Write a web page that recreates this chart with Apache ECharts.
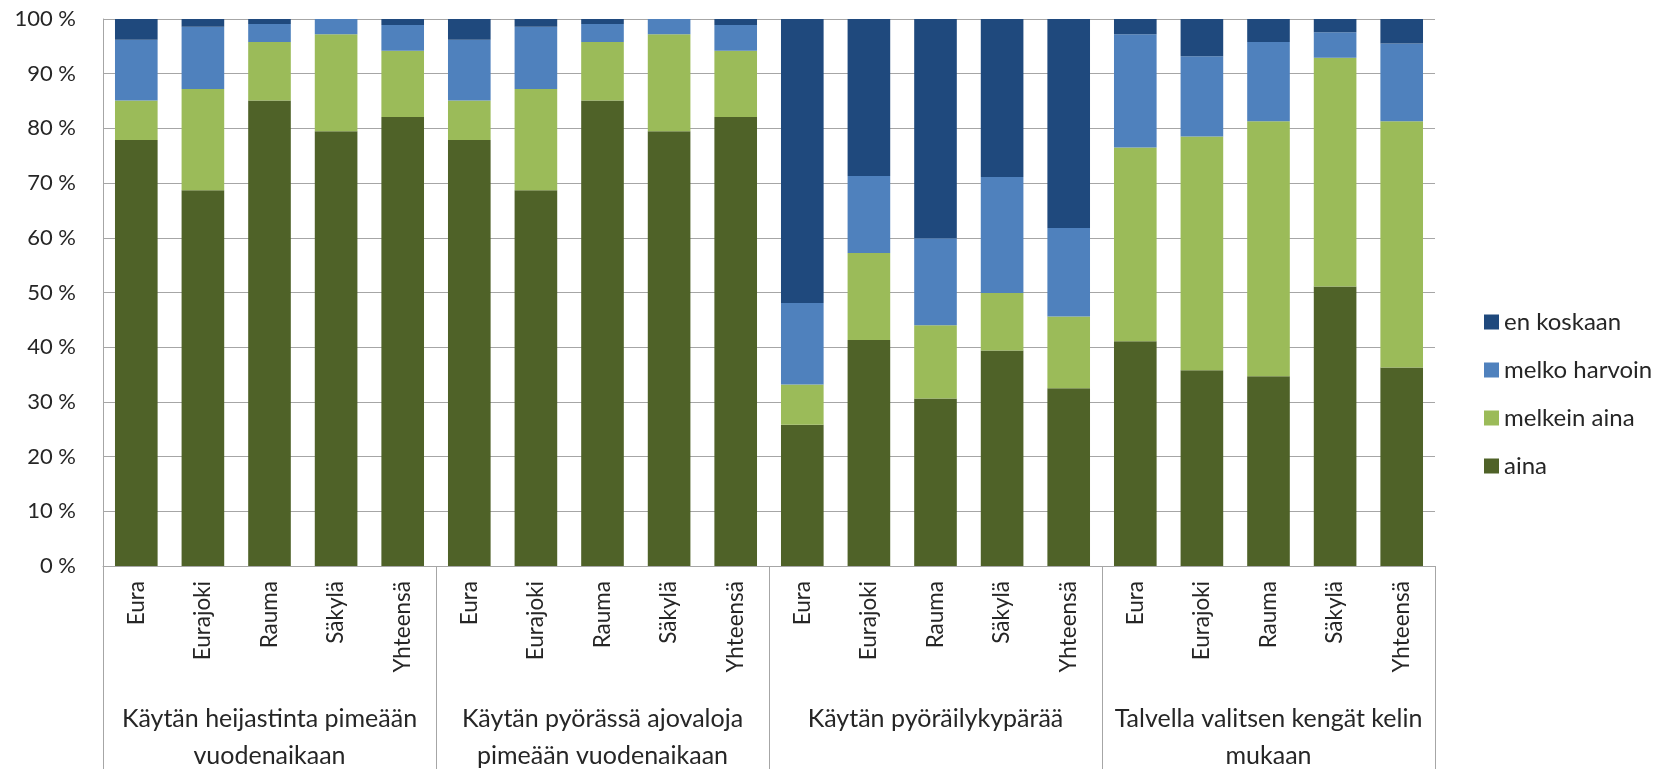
<!DOCTYPE html>
<html>
<head>
<meta charset="utf-8">
<script src="https://cdn.jsdelivr.net/npm/echarts@6/dist/echarts.min.js"></script>
<style>
  html, body { margin: 0; padding: 0; background: #fff; }
  #chart { width: 1669px; height: 774px; }
</style>
</head>
<body>
<div id="chart"></div>
<script>
var places = ['Eura', 'Eurajoki', 'Rauma', 'Säkylä', 'Yhteensä'];
var groups = [
    'Käytän heijastinta pimeään\nvuodenaikaan',
    'Käytän pyörässä ajovaloja\npimeään vuodenaikaan',
    'Käytän pyöräilykypärää',
    'Talvella valitsen kengät kelin\nmukaan'
];
var categories = [].concat(places, places, places, places);

var aina         = [77.9, 68.7, 85.1, 79.5, 82.1,  77.9, 68.7, 85.1, 79.5, 82.1,  25.8, 41.3, 30.6, 39.4, 32.5,  41.1, 35.8, 34.7, 51.1, 36.3];
var melkeinAina  = [ 7.2, 18.5, 10.7, 17.7, 12.1,   7.2, 18.5, 10.7, 17.7, 12.1,   7.4, 15.9, 13.4, 10.5, 13.1,  35.4, 42.7, 46.6, 41.8, 45.0];
var melkoHarvoin = [11.1, 11.4,  3.3,  2.8,  4.7,  11.1, 11.4,  3.3,  2.8,  4.7,  14.9, 14.1, 15.9, 21.2, 16.2,  20.7, 14.7, 14.5,  4.7, 14.2];
var enKoskaan    = [ 3.8,  1.4,  0.9,  0.0,  1.1,   3.8,  1.4,  0.9,  0.0,  1.1,  51.9, 28.7, 40.1, 28.9, 38.2,   2.8,  6.8,  4.2,  2.4,  4.5];

var yTicks = [0, 10, 20, 30, 40, 50, 60, 70, 80, 90, 100];

var font = 'Lato, "Open Sans", sans-serif';
var gray = '#a6a6a6';
var ink = '#262626';

var myChart = echarts.init(document.getElementById('chart'));

function bar(name, data, color) {
    return {
        name: name,
        type: 'bar',
        stack: 'total',
        barWidth: '64%',
        data: data,
        itemStyle: { color: color },
        emphasis: { disabled: true }
    };
}

var option = {
    animation: false,
    textStyle: { fontFamily: font, color: ink },
    grid: { left: 103, right: 234, top: 19, bottom: 203, containLabel: false },
    legend: {
        data: ['en koskaan', 'melko harvoin', 'melkein aina', 'aina'],
        orient: 'vertical',
        left: 1479,
        top: 305,
        itemWidth: 15,
        itemHeight: 15,
        itemGap: 24,
        icon: 'rect',
        textStyle: { fontFamily: font, fontSize: 24, color: ink }
    },
    xAxis: [
        {
            type: 'category',
            data: categories,
            axisLine: { lineStyle: { color: gray } },
            axisTick: { show: false },
            axisLabel: {
                interval: 0,
                rotate: 90,
                margin: 15,
                fontFamily: font,
                fontSize: 22.5,
                color: ink
            }
        },
        {
            type: 'category',
            data: groups,
            position: 'bottom',
            axisLine: { show: false },
            axisTick: { show: true, length: 203, interval: 0, lineStyle: { color: gray } },
            axisLabel: {
                interval: 0,
                margin: 134,
                fontFamily: font,
                fontSize: 25,
                lineHeight: 37,
                color: ink
            }
        }
    ],
    yAxis: {
        type: 'value',
        min: 0,
        max: 100,
        interval: 10,
        axisLine: { show: true, lineStyle: { color: gray } },
        axisTick: { show: false },
        splitLine: { lineStyle: { color: gray } },
        axisLabel: {
            margin: 27,
            fontFamily: font,
            fontSize: 22,
            color: ink,
            formatter: function (v) {
                return yTicks.indexOf(v) >= 0 ? v + ' %' : '';
            }
        }
    },
    series: [
        bar('aina', aina, '#4f6228'),
        bar('melkein aina', melkeinAina, '#9bbb59'),
        bar('melko harvoin', melkoHarvoin, '#4f81bd'),
        bar('en koskaan', enKoskaan, '#1f497d')
    ]
};
myChart.setOption(option);
</script>
</body>
</html>
